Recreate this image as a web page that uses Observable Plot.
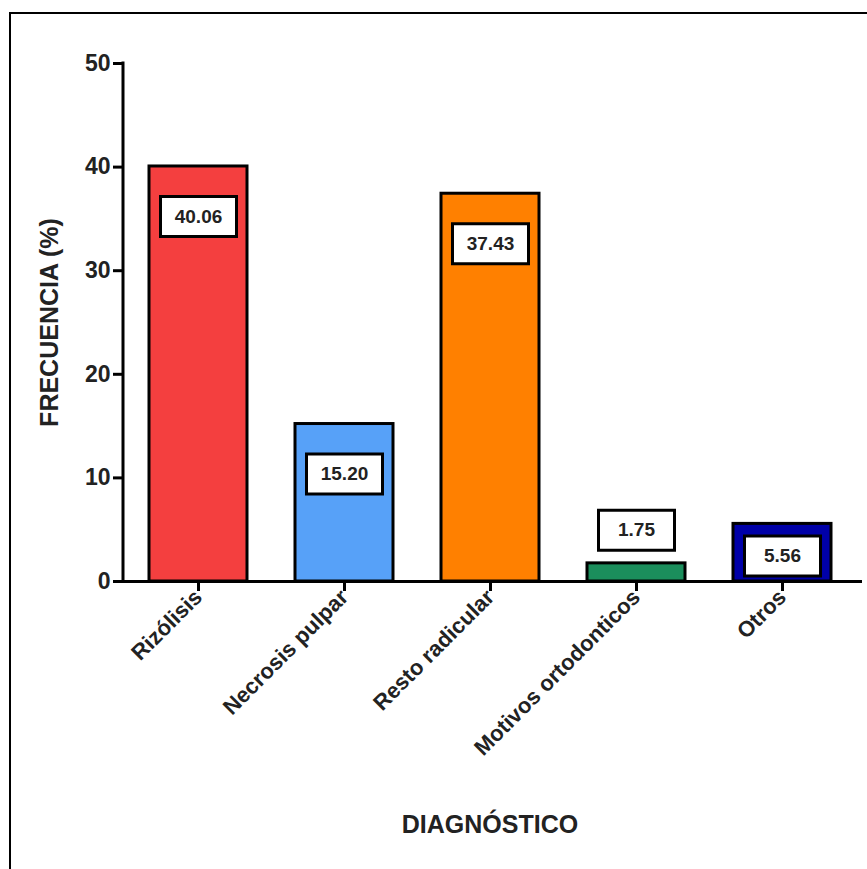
<!DOCTYPE html>
<html>
<head>
<meta charset="utf-8">
<script src="https://cdn.jsdelivr.net/npm/d3@7"></script>
<script src="https://cdn.jsdelivr.net/npm/@observablehq/plot@0.6"></script>
<style>
  html, body { margin: 0; padding: 0; background: #fff; color: #000; }
  #wrap { position: relative; width: 867px; height: 869px; overflow: hidden; }
  #wrap svg { position: absolute; left: 0; top: 0; }
  .edge { position: absolute; background: #000; }
  #edgeTop { left: 9px; top: 12px; width: 860px; height: 2px; }
  #edgeLeft { left: 9px; top: 12px; width: 2px; height: 860px; }
</style>
</head>
<body>
<div id="wrap">
  <div class="edge" id="edgeTop"></div>
  <div class="edge" id="edgeLeft"></div>
</div>
<script>
// Diagnóstico de las extracciones y su frecuencia relativa
const categorias = ["Rizólisis", "Necrosis pulpar", "Resto radicular", "Motivos ortodonticos", "Otros"];
const frecuencias = [40.06, 15.20, 37.43, 1.75, 5.56];
const colores = ["#F43F3F", "#57A1F8", "#FF8000", "#1B8E5C", "#0000A8"];
const yTicks = [0, 10, 20, 30, 40, 50];

const datos = categorias.map((c, i) => ({categoria: c, frecuencia: frecuencias[i]}));
const fmt = d3.format(".2f");

// White value box drawn as a custom dot symbol (fixed size, in pixels)
const cajaValor = {
  draw(context) {
    context.moveTo(-38, -20);
    context.lineTo(38, -20);
    context.lineTo(38, 20);
    context.lineTo(-38, 20);
    context.closePath();
  }
};

// Where the value box sits relative to the top of its bar
const grupos = [
  {test: d => d.frecuencia >= 10, dy: 50},                      // tall bars: inside, near the top
  {test: d => d.frecuencia >= 4 && d.frecuencia < 10, dy: 32},  // short bars: inside
  {test: d => d.frecuencia < 4, dy: -33}                         // very short bars: above
];

const etiquetas = grupos.flatMap(g => [
  Plot.dot(datos.filter(g.test), {
    x: "categoria", y: "frecuencia", dy: g.dy,
    symbol: cajaValor, fill: "white", stroke: "black", strokeWidth: 3
  }),
  Plot.text(datos.filter(g.test), {
    x: "categoria", y: "frecuencia", dy: g.dy,
    text: d => fmt(d.frecuencia), fontSize: 19, fill: "#222",
    textAnchor: "middle", lineAnchor: "middle"
  })
]);

// Vertical axis line along the left edge of the frame, spanning the tick range
function lineaEjeY(index, scales, values, dimensions) {
  const ns = "http://www.w3.org/2000/svg";
  const [y0, y1] = d3.extent(yTicks);
  const line = document.createElementNS(ns, "line");
  line.setAttribute("x1", dimensions.marginLeft);
  line.setAttribute("x2", dimensions.marginLeft);
  line.setAttribute("y1", scales.y(y0) + 1.5);
  line.setAttribute("y2", scales.y(y1) - 1.5);
  line.setAttribute("stroke", "black");
  line.setAttribute("stroke-width", 3);
  const g = document.createElementNS(ns, "g");
  g.appendChild(line);
  return g;
}

const chart = Plot.plot({
  width: 867,
  height: 869,
  marginLeft: 123,
  marginTop: 63,
  marginBottom: 288,
  marginRight: 5,
  style: {fontFamily: "'Liberation Sans', Arial, sans-serif", fontWeight: "bold", background: "transparent", overflow: "visible"},
  x: {domain: categorias, paddingInner: 0.33, paddingOuter: 0.165, insetRight: 6, label: null},
  y: {domain: [0, 50], label: null},
  color: {domain: categorias, range: colores},
  marks: [
    Plot.barY(datos, {x: "categoria", y: "frecuencia", fill: "categoria", stroke: "black", strokeWidth: 3}),
    ...etiquetas,
    Plot.ruleY([0], {strokeWidth: 3}),
    lineaEjeY,
    Plot.axisY({ticks: yTicks, tickSize: 10, tickPadding: 3, fontSize: 23, strokeWidth: 3, label: null, fill: "#222"}),
    Plot.axisX({tickSize: 10, tickPadding: 2, tickRotate: -45, fontSize: 22, strokeWidth: 3, label: null, fill: "#222"}),
    Plot.text(["FRECUENCIA (%)"], {frameAnchor: "left", textAnchor: "middle", lineAnchor: "middle", dx: -74, rotate: -90, fontSize: 25, fill: "#222", text: d => d}),
    Plot.text(["DIAGNÓSTICO"], {frameAnchor: "bottom", textAnchor: "middle", dy: 251, dx: -3, fontSize: 25, fill: "#222", text: d => d})
  ]
});

document.getElementById("wrap").appendChild(chart);
</script>
</body>
</html>
